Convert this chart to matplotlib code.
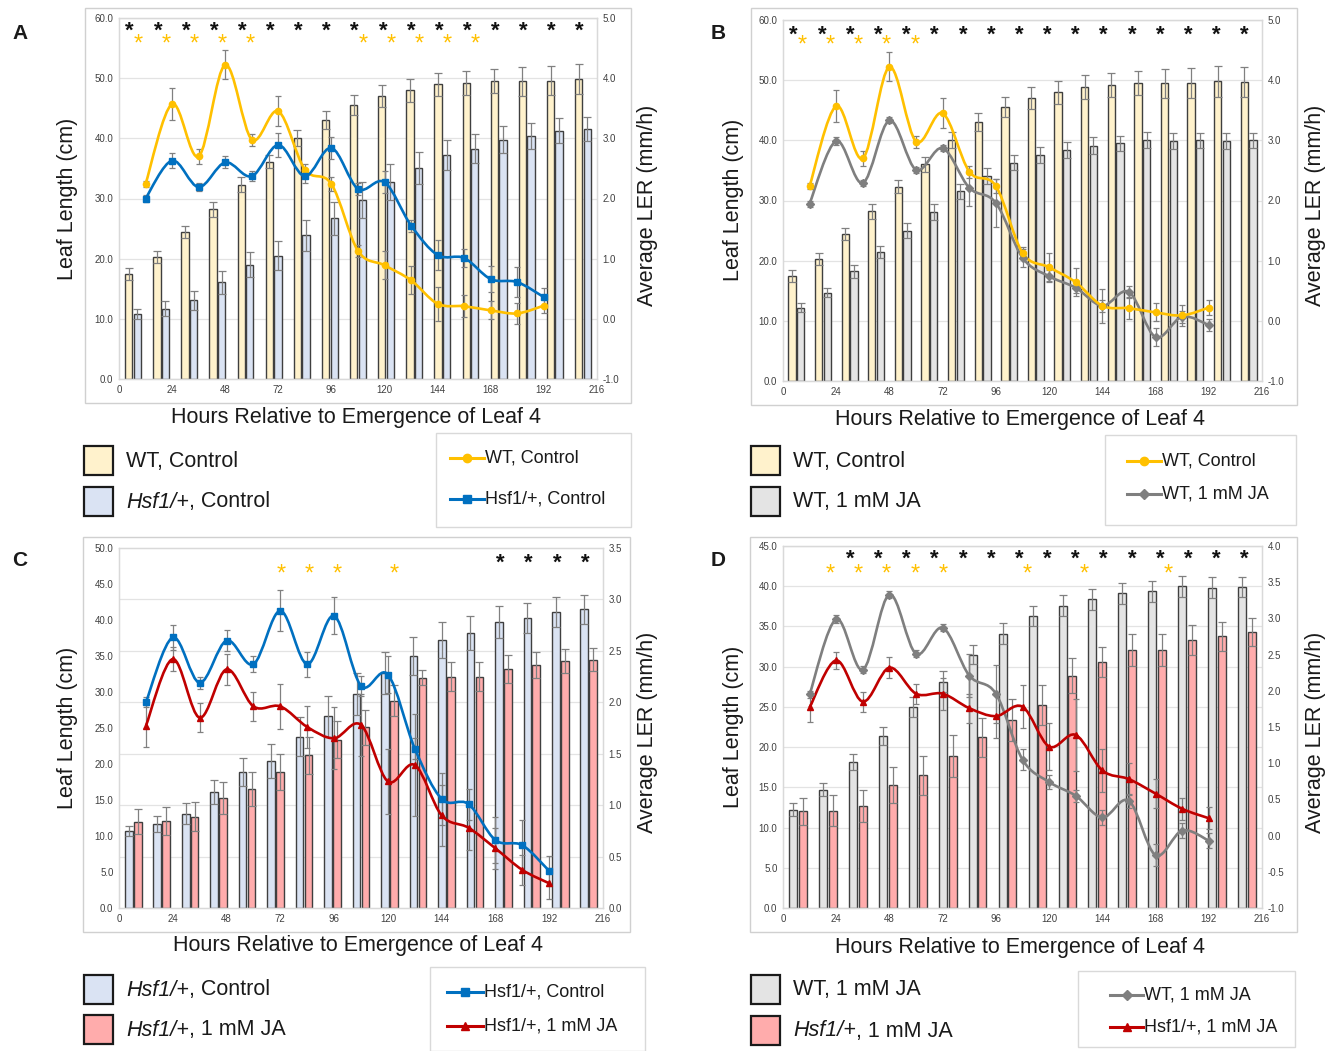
import numpy as np
import matplotlib
matplotlib.use("Agg")
import matplotlib.pyplot as plt
import matplotlib.transforms as mtransforms
from matplotlib.path import Path
from matplotlib.patches import PathPatch, Rectangle
from matplotlib.lines import Line2D

plt.rcParams['font.family'] = ['Liberation Sans', 'DejaVu Sans']

# ---------------- data ----------------
ler_hours = [12, 24, 36, 48, 60, 72, 84, 96, 108, 120, 132, 144, 156, 168, 180, 192]

wt_ctrl_ler = [2.24, 3.57, 2.70, 4.22, 2.98, 3.45, 2.48, 2.24, 1.13, 0.89, 0.64, 0.25, 0.21, 0.14, 0.09, 0.22]
wt_ctrl_ler_err = [0.05, 0.26, 0.12, 0.24, 0.10, 0.25, 0.10, 0.12, 0.10, 0.23, 0.23, 0.28, 0.18, 0.15, 0.18, 0.12]
hsf_ctrl_ler = [2.00, 2.63, 2.19, 2.60, 2.37, 2.89, 2.37, 2.84, 2.16, 2.27, 1.55, 1.06, 1.01, 0.66, 0.61, 0.36]
hsf_ctrl_ler_err = [0.05, 0.12, 0.06, 0.10, 0.08, 0.20, 0.12, 0.18, 0.10, 0.18, 0.10, 0.25, 0.15, 0.22, 0.25, 0.15]
wt_ja_ler = [1.95, 2.99, 2.29, 3.33, 2.51, 2.87, 2.21, 1.96, 1.05, 0.74, 0.55, 0.25, 0.48, -0.27, 0.07, -0.07]
wt_ja_ler_err = [0.05, 0.06, 0.05, 0.05, 0.05, 0.05, 0.30, 0.40, 0.15, 0.10, 0.08, 0.10, 0.10, 0.15, 0.10, 0.10]
hsf_ja_ler = [1.77, 2.42, 1.85, 2.32, 1.96, 1.96, 1.76, 1.65, 1.78, 1.23, 1.39, 0.90, 0.78, 0.58, 0.37, 0.24]
hsf_ja_ler_err = [0.20, 0.12, 0.14, 0.15, 0.14, 0.22, 0.20, 0.30, 0.30, 0.32, 0.50, 0.30, 0.22, 0.20, 0.15, 0.15]

# Panel A bars (17 groups)
a_wt_ctrl_len = [17.4, 20.2, 24.4, 28.2, 32.3, 36.1, 40.1, 43.1, 45.5, 47.0, 48.0, 49.0, 49.2, 49.5, 49.5, 49.6, 49.8]
a_wt_ctrl_err = [1.0, 1.0, 1.0, 1.2, 1.2, 1.1, 1.3, 1.5, 1.7, 1.8, 1.9, 1.9, 2.0, 2.0, 2.4, 2.4, 2.5]
a_hsf_ctrl_len = [10.8, 11.7, 13.1, 16.1, 19.0, 20.5, 23.9, 26.7, 29.8, 32.7, 35.1, 37.3, 38.3, 39.8, 40.4, 41.3, 41.6]
a_hsf_ctrl_err = [0.8, 1.2, 1.6, 1.9, 2.1, 2.4, 2.6, 2.7, 3.0, 3.0, 2.7, 2.5, 2.4, 2.2, 2.1, 2.0, 2.0]
# Panel B bars (18 groups)
b_wt_ctrl_len = [17.4, 20.2, 24.4, 28.2, 32.3, 36.0, 40.1, 43.1, 45.5, 47.0, 48.0, 48.9, 49.2, 49.5, 49.5, 49.6, 49.8, 49.7]
b_wt_ctrl_err = [1.0, 1.0, 1.0, 1.3, 1.1, 1.2, 1.3, 1.5, 1.7, 1.8, 1.9, 2.0, 2.0, 2.0, 2.4, 2.5, 2.6, 2.5]
b_wt_ja_len = [12.2, 14.7, 18.2, 21.4, 25.0, 28.1, 31.5, 34.1, 36.3, 37.6, 38.4, 39.1, 39.5, 40.1, 39.9, 40.0, 39.9, 40.0]
b_wt_ja_err = [0.8, 0.8, 1.0, 1.0, 1.2, 1.3, 1.2, 1.3, 1.3, 1.3, 1.3, 1.4, 1.3, 1.3, 1.3, 1.3, 1.3, 1.3]
# Panel C bars (17 groups)
c_hsf_ctrl_len = [10.7, 11.7, 13.1, 16.1, 18.9, 20.4, 23.8, 26.6, 29.7, 32.6, 35.0, 37.2, 38.2, 39.7, 40.3, 41.1, 41.5]
c_hsf_ctrl_err = [0.7, 1.1, 1.5, 1.7, 2.0, 2.4, 2.7, 2.8, 2.9, 2.9, 2.7, 2.5, 2.4, 2.2, 2.1, 2.1, 2.0]
c_hsf_ja_len = [12.0, 12.1, 12.7, 15.3, 16.5, 18.9, 21.2, 23.4, 25.1, 28.8, 32.0, 32.1, 32.1, 33.2, 33.8, 34.3, 34.5]
c_hsf_ja_err = [1.7, 1.9, 2.0, 2.2, 2.4, 2.5, 2.6, 2.6, 2.4, 2.2, 1.0, 2.0, 2.0, 1.9, 1.8, 1.7, 1.6]
# Panel D bars (16 groups)
d_wt_ja_len = [12.2, 14.7, 18.2, 21.4, 25.0, 28.1, 31.5, 34.1, 36.3, 37.6, 38.4, 39.1, 39.4, 40.0, 39.8, 39.9]
d_wt_ja_err = [0.8, 0.8, 1.0, 1.1, 1.2, 1.3, 1.2, 1.3, 1.3, 1.3, 1.3, 1.3, 1.3, 1.3, 1.3, 1.3]
d_hsf_ja_len = [12.0, 12.1, 12.7, 15.3, 16.5, 18.9, 21.2, 23.4, 25.2, 28.9, 30.6, 32.1, 32.1, 33.3, 33.8, 34.3]
d_hsf_ja_err = [1.7, 1.9, 2.0, 2.2, 2.4, 2.6, 2.4, 2.6, 2.5, 2.2, 1.9, 2.0, 2.0, 1.9, 1.8, 1.7]

# significance asterisk slots (17-slot layout)
a_black = list(range(17)); a_yellow = [0, 1, 2, 3, 4, 8, 9, 10, 11, 12]
b_black = list(range(17)); b_yellow = [0, 1, 2, 3, 4]
c_black = [13, 14, 15, 16]; c_yellow = [5, 6, 7, 9]
d_black = list(range(2, 17)); d_yellow = [1, 2, 3, 4, 5, 8, 10, 13]

x_ticks = [0, 24, 48, 72, 96, 120, 144, 168, 192, 216]

# ---------------- colours ----------------
C_WT_CTRL = '#FFF2CC'
C_HSF_CTRL = '#DAE3F3'
C_WT_JA = '#E4E4E4'
C_HSF_JA = '#FFACAC'
L_WT_CTRL = '#FFC000'
L_HSF_CTRL = '#0070C0'
L_WT_JA = '#7F7F7F'
L_HSF_JA = '#C00000'
GRID = '#E3E3E3'
SPINE = '#D9D9D9'
TXT = '#1A1A1A'

W, H = 1331, 1051
fig = plt.figure(figsize=(W / 100, H / 100), dpi=100)


def fx(x):
    return x / W


def fy(y):
    return 1 - y / H


def smooth_path(x, y):
    pts = np.column_stack([x, y]).astype(float)
    n = len(pts)
    verts = [pts[0]]
    codes = [Path.MOVETO]
    for i in range(n - 1):
        p0 = pts[i - 1] if i > 0 else pts[i]
        p1 = pts[i]
        p2 = pts[i + 1]
        p3 = pts[i + 2] if i + 2 < n else pts[i + 1]
        verts += [p1 + (p2 - p0) / 6.0, p2 - (p3 - p1) / 6.0, p2]
        codes += [Path.CURVE4] * 3
    return Path(verts, codes)


AST_FS = 16


def panel(px, bars, width, gap, lylim, lstep, rylim, rstep, lines,
          black, yellow, ast_y, grid_right=False):
    x0, x1, yt, yb = px
    ax = fig.add_axes([fx(x0), fy(yb), (x1 - x0) / W, (yb - yt) / H])
    ax2 = ax.twinx()
    (s1, e1, c1), (s2, e2, c2) = bars
    n = len(s1)
    centers = (np.arange(n) + 0.5) * 216.0 / n
    ekw = dict(ecolor='#808080', elinewidth=0.9, capsize=2.6, capthick=0.9)
    ax.bar(centers - (width + gap) / 2, s1, width=width, color=c1, edgecolor='#3F3F3F',
           linewidth=1.0, yerr=e1, error_kw=ekw, zorder=2)
    ax.bar(centers + (width + gap) / 2, s2, width=width, color=c2, edgecolor='#3F3F3F',
           linewidth=1.0, yerr=e2, error_kw=ekw, zorder=2)
    ax.set_xlim(0, 216)
    ax.set_ylim(*lylim)
    ax.set_xticks(x_ticks)
    ax.set_yticks(np.arange(lylim[0], lylim[1] + 0.001, lstep))
    ax.yaxis.set_major_formatter(matplotlib.ticker.FormatStrFormatter('%.1f'))
    ax2.set_ylim(*rylim)
    rt = np.arange(rylim[0], rylim[1] + 0.001, rstep)
    ax2.set_yticks(rt)
    ax2.yaxis.set_major_formatter(matplotlib.ticker.FormatStrFormatter('%.1f'))
    if grid_right:
        lv = (rt - rylim[0]) / (rylim[1] - rylim[0]) * (lylim[1] - lylim[0]) + lylim[0]
        ax.set_yticks(lv, minor=True)
        ax.yaxis.grid(True, which='minor', color=GRID, lw=0.9)
        ax.tick_params(which='minor', length=0)
    else:
        ax.yaxis.grid(True, which='major', color=GRID, lw=0.9)
    ax.set_axisbelow(True)
    for a in (ax, ax2):
        for s in a.spines.values():
            s.set_color(SPINE)
            s.set_linewidth(0.9)
        a.tick_params(length=0, labelsize=7, colors='#404040', pad=4)
    # lines
    for (yv, ev, col, mk, ms) in lines:
        ax2.errorbar(ler_hours, yv, yerr=ev, fmt='none', ecolor='#808080',
                     elinewidth=0.9, capsize=2.4, capthick=0.9, zorder=3)
        ax2.add_patch(PathPatch(smooth_path(ler_hours, yv), facecolor='none',
                                edgecolor=col, lw=1.9, zorder=4))
        ax2.plot(ler_hours, yv, linestyle='none', marker=mk, ms=ms, color=col,
                 markeredgecolor=col, zorder=5)
    # asterisks (text glyph centred on target via baseline offset)
    shift = mtransforms.ScaledTranslation(0, -0.45 * AST_FS / 72.0, fig.dpi_scale_trans)
    tr = ax.transData + shift
    slots = (np.arange(17) + 0.5) * 216.0 / 17
    for i in black:
        ax.text(slots[i] - 1.5, ast_y[0], '*', ha='center', va='baseline', fontsize=AST_FS,
                fontweight='bold', color='#111111', zorder=6, transform=tr)
    for i in yellow:
        ax.text(slots[i] + 2.3, ast_y[1], '*', ha='center', va='baseline', fontsize=AST_FS + 1,
                color=L_WT_CTRL, zorder=6, transform=tr)
    return ax, ax2


# Panel frames
for (l, t, r, b) in [(85, 8, 631, 403), (751, 8, 1297, 405), (83, 537, 630, 932), (750, 537, 1297, 932)]:
    fig.add_artist(Rectangle((fx(l), fy(b)), (r - l) / W, (b - t) / H, transform=fig.transFigure,
                             facecolor='none', edgecolor='#D0D0D0', lw=1.0))

panel((119, 597, 18, 379),
      [(a_wt_ctrl_len, a_wt_ctrl_err, C_WT_CTRL), (a_hsf_ctrl_len, a_hsf_ctrl_err, C_HSF_CTRL)],
      3.3, 0.6, (0, 60), 10, (-1, 5), 1,
      [(wt_ctrl_ler, wt_ctrl_ler_err, L_WT_CTRL, 'o', 4.5),
       (hsf_ctrl_ler, hsf_ctrl_ler_err, L_HSF_CTRL, 's', 4.5)],
      a_black, a_yellow, (58.5, 56.3))

panel((783, 1262, 20, 381),
      [(b_wt_ctrl_len, b_wt_ctrl_err, C_WT_CTRL), (b_wt_ja_len, b_wt_ja_err, C_WT_JA)],
      3.3, 0.6, (0, 60), 10, (-1, 5), 1,
      [(wt_ja_ler, wt_ja_ler_err, L_WT_JA, 'D', 4.0),
       (wt_ctrl_ler, wt_ctrl_ler_err, L_WT_CTRL, 'o', 4.5)],
      b_black, b_yellow, (58.3, 56.5))

panel((119, 603, 548, 908),
      [(c_hsf_ctrl_len, c_hsf_ctrl_err, C_HSF_CTRL), (c_hsf_ja_len, c_hsf_ja_err, C_HSF_JA)],
      3.4, 0.6, (0, 50), 5, (0, 3.5), 0.5,
      [(hsf_ja_ler, hsf_ja_ler_err, L_HSF_JA, '^', 4.5),
       (hsf_ctrl_ler, hsf_ctrl_ler_err, L_HSF_CTRL, 's', 4.5)],
      c_black, c_yellow, (48.5, 46.9), grid_right=True)

panel((783, 1262, 546, 908),
      [(d_wt_ja_len, d_wt_ja_err, C_WT_JA), (d_hsf_ja_len, d_hsf_ja_err, C_HSF_JA)],
      3.6, 0.8, (0, 45), 5, (-1, 4), 0.5,
      [(wt_ja_ler, wt_ja_ler_err, L_WT_JA, 'D', 4.0),
       (hsf_ja_ler, hsf_ja_ler_err, L_HSF_JA, '^', 4.5)],
      d_black, d_yellow, (43.9, 42.0))

# ---- panel letters, axis labels ----
for (x, y, s) in [(20, 33, 'A'), (718, 33, 'B'), (20, 560, 'C'), (718, 560, 'D')]:
    fig.text(fx(x), fy(y), s, fontsize=15, fontweight='bold', ha='center', va='center', color=TXT)

for (x, y) in [(68, 199), (733, 200), (68, 728), (733, 727)]:
    fig.text(fx(x), fy(y), 'Leaf Length (cm)', rotation=90, fontsize=15.5, ha='center', va='center', color=TXT)
for (x, y) in [(648, 205), (1315, 205), (648, 732), (1316, 732)]:
    fig.text(fx(x), fy(y), 'Average LER (mm/h)', rotation=90, fontsize=15.5, ha='center', va='center', color=TXT)
for (x, y) in [(356, 417), (1020, 419), (358, 945), (1020, 947)]:
    fig.text(fx(x), fy(y), 'Hours Relative to Emergence of Leaf 4', fontsize=15.5, ha='center', va='center', color=TXT)

# ---- bar legends ----
renderer = fig.canvas.get_renderer()


def bar_entry(x, y, color, italic_part, rest):
    fig.add_artist(Rectangle((fx(x), fy(y + 29)), 29 / W, 29 / H, transform=fig.transFigure,
                             facecolor=color, edgecolor='#1A1A1A', lw=1.6))
    tx = x + 42
    if italic_part:
        t = fig.text(fx(tx), fy(y + 15), italic_part, fontsize=15.5, style='italic', va='center', color=TXT)
        bb = t.get_window_extent(renderer)
        tx = tx + bb.width + 0.5
    fig.text(fx(tx), fy(y + 15), rest, fontsize=15.5, va='center', color=TXT)


bar_entry(84, 446, C_WT_CTRL, '', 'WT, Control')
bar_entry(84, 487, C_HSF_CTRL, 'Hsf1/+', ', Control')
bar_entry(751, 446, C_WT_CTRL, '', 'WT, Control')
bar_entry(751, 487, C_WT_JA, '', 'WT, 1 mM JA')
bar_entry(84, 975, C_HSF_CTRL, 'Hsf1/+', ', Control')
bar_entry(84, 1015, C_HSF_JA, 'Hsf1/+', ', 1 mM JA')
bar_entry(751, 975, C_WT_JA, '', 'WT, 1 mM JA')
bar_entry(751, 1016, C_HSF_JA, 'Hsf1/+', ', 1 mM JA')

# ---- line legends ----


def line_box(l, t, r, b):
    fig.add_artist(Rectangle((fx(l), fy(b)), (r - l) / W, (b - t) / H, transform=fig.transFigure,
                             facecolor='none', edgecolor='#D9D9D9', lw=1.0))


def line_entry(x0, x1, y, col, mk, ms, label):
    fig.add_artist(Line2D([fx(x0), fx(x1)], [fy(y), fy(y)], transform=fig.transFigure,
                          color=col, lw=2.2))
    fig.add_artist(Line2D([fx((x0 + x1) / 2)], [fy(y)], transform=fig.transFigure,
                          marker=mk, ms=ms + 1.5, color=col, linestyle='none'))
    fig.text(fx(x1 + 1), fy(y), label, fontsize=13, va='center', color=TXT)


line_box(436, 433, 631, 527)
line_entry(450, 484, 458, L_WT_CTRL, 'o', 4.5, 'WT, Control')
line_entry(450, 484, 499, L_HSF_CTRL, 's', 4.5, 'Hsf1/+, Control')
line_box(1105, 435, 1296, 525)
line_entry(1127, 1161, 461, L_WT_CTRL, 'o', 4.5, 'WT, Control')
line_entry(1127, 1161, 494, L_WT_JA, 'D', 4.0, 'WT, 1 mM JA')
line_box(430, 967, 645, 1051)
line_entry(447, 483, 992, L_HSF_CTRL, 's', 4.5, 'Hsf1/+, Control')
line_entry(447, 483, 1026, L_HSF_JA, '^', 4.5, 'Hsf1/+, 1 mM JA')
line_box(1078, 971, 1295, 1047)
line_entry(1110, 1143, 995, L_WT_JA, 'D', 4.0, 'WT, 1 mM JA')
line_entry(1110, 1143, 1027, L_HSF_JA, '^', 4.5, 'Hsf1/+, 1 mM JA')

fig.savefig('out.png', dpi=100)
